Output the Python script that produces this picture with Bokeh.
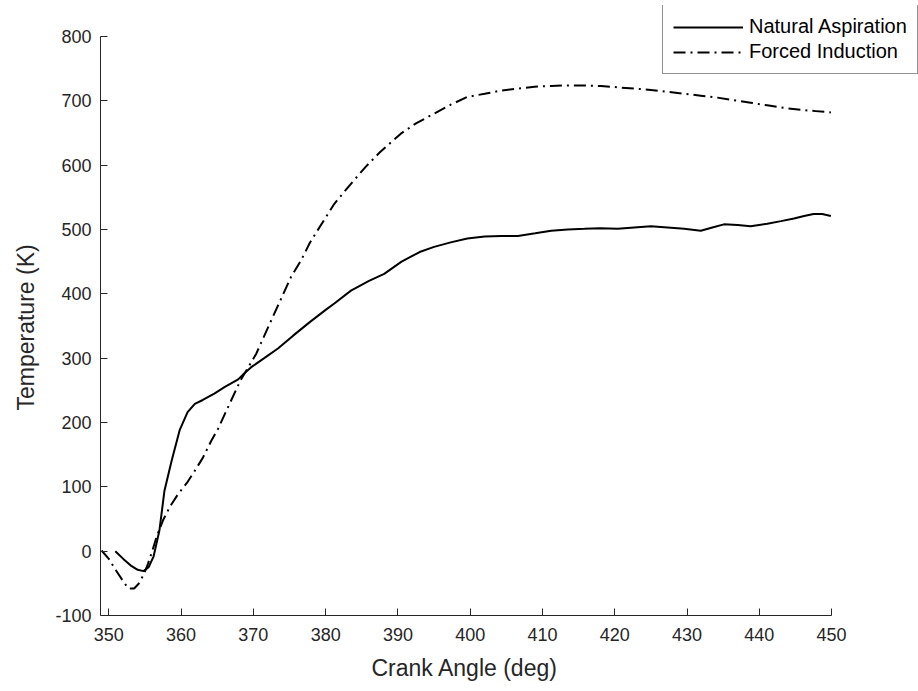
from bokeh.plotting import figure
from bokeh.models import Range1d, FixedTicker, Legend, LegendItem, PrintfTickFormatter, Title
from bokeh.embed import file_html
from bokeh.resources import INLINE

# ---- data ----
na_angle = [350.9, 352.0, 353.0, 354.0, 354.8, 355.5, 356.2, 357.0, 357.7, 358.7,
            359.8, 360.9, 361.9, 363.0, 364.6, 366.0, 367.9, 368.8, 369.7, 371.5,
            373.4, 375.5, 377.8, 380.0, 381.2, 383.5, 386.0, 388.1, 390.5, 393.0,
            395.0, 397.3, 399.6, 402.0, 404.3, 406.6, 409.0, 411.2, 413.5, 415.8,
            418.0, 420.4, 422.7, 425.0, 427.3, 429.6, 431.9, 433.5, 435.1, 437.0,
            438.8, 441.1, 443.0, 444.8, 446.2, 447.5, 448.7, 449.9]
na_temp = [0, -12, -22, -29, -31, -25, -8, 32, 94, 141,
           188, 216, 229, 235, 245, 255, 267, 277, 286, 300,
           315, 335, 356, 375, 385, 405, 420, 431, 450, 465,
           473, 480, 486, 489, 490, 490, 494, 498, 500, 501,
           502, 501, 503, 505, 503, 501, 498, 503, 508, 507,
           505, 509, 513, 517, 521, 524, 524, 521]

fi_angle = [349.0, 350.0, 351.0, 352.0, 352.7, 353.5, 354.1, 354.8, 355.4, 356.0,
            356.6, 357.5, 358.5, 359.6, 360.8, 361.9, 363.0, 364.2, 365.1, 366.5,
            368.2, 370.4, 372.0, 375.2, 376.6, 377.8, 378.9, 381.2, 383.5, 385.5,
            387.5, 390.4, 392.5, 395.0, 397.3, 399.6, 402.0, 404.3, 406.6, 408.9,
            411.2, 413.5, 415.8, 418.1, 420.4, 422.7, 425.0, 427.3, 429.6, 431.9,
            434.2, 436.5, 438.8, 441.1, 443.4, 445.7, 447.8, 449.9]
fi_temp = [1, -12, -30, -47, -58, -58, -51, -37, -20, 0,
           22, 48, 70, 89, 106, 125, 145, 172, 190, 224,
           265, 307, 347, 426, 452, 479, 499, 540, 571, 597,
           620, 649, 665, 680, 694, 706, 711, 716, 719, 722,
           723, 724, 724, 723, 721, 719, 717, 714, 711, 708,
           705, 701, 697, 693, 689, 686, 684, 682]

x_ticks = [350, 360, 370, 380, 390, 400, 410, 420, 430, 440, 450]
y_ticks = [-100, 0, 100, 200, 300, 400, 500, 600, 700, 800]
x_axis_lim = (348.85, 450)
y_axis_lim = (-100, 800)
x_label = "Crank Angle (deg)"
y_label = "Temperature (K)"

# ---- layout (pixels) ----
W, H = 918, 691
LEFT, BOTTOM = 99, 76          # axes box left / bottom margins
AXES_W, AXES_H = 732, 579      # size of the drawn axes box
TOP, RIGHT = 5, 0              # frame extended so the legend is not clipped

FONT = "Liberation Sans"
AX = "#262626"

xs = (x_axis_lim[1] - x_axis_lim[0]) / AXES_W
ys = (y_axis_lim[1] - y_axis_lim[0]) / AXES_H
x_end = x_axis_lim[0] + (W - LEFT - RIGHT) * xs
y_end = y_axis_lim[0] + (H - BOTTOM - TOP) * ys

p = figure(width=W, height=H, output_backend="svg", toolbar_location=None,
           x_range=Range1d(x_axis_lim[0], x_end), y_range=Range1d(y_axis_lim[0], y_end),
           min_border_left=LEFT, min_border_right=RIGHT, min_border_top=TOP,
           min_border_bottom=BOTTOM)
p.outline_line_color = None
p.background_fill_color = "white"
p.border_fill_color = "white"
p.xgrid.grid_line_color = None
p.ygrid.grid_line_color = None

for ax in (p.xaxis, p.yaxis):
    ax.axis_line_color = AX
    ax.axis_line_width = 1
    ax.major_tick_line_color = AX
    ax.major_tick_in = 7
    ax.major_tick_out = 0
    ax.minor_tick_line_color = None
    ax.major_label_text_font = FONT
    ax.major_label_text_font_size = "18px"
    ax.major_label_text_color = AX
    ax.formatter = PrintfTickFormatter(format="%d")

p.xaxis.bounds = x_axis_lim
p.yaxis.bounds = y_axis_lim
p.xaxis.ticker = FixedTicker(ticks=x_ticks)
p.yaxis.ticker = FixedTicker(ticks=y_ticks)
p.xaxis.major_label_standoff = 12
p.yaxis.major_label_standoff = 9

# axis titles centred on the drawn axes box (not on the extended frame)
p.add_layout(Title(text=x_label, align="left", offset=271, vertical_align="bottom",
                   standoff=19, text_font=FONT, text_font_size="23px",
                   text_font_style="normal", text_color=AX), "below")
p.add_layout(Title(text=y_label, align="left", offset=205, vertical_align="top",
                   standoff=24, text_font=FONT, text_font_size="23px",
                   text_font_style="normal", text_color=AX), "left")

r1 = p.line(na_angle, na_temp, line_color="black", line_width=2)
r2 = p.line(fi_angle, fi_temp, line_color="black", line_width=2, line_dash="12 5 2 5")

legend = Legend(items=[LegendItem(label="Natural Aspiration", renderers=[r1]),
                       LegendItem(label="Forced Induction", renderers=[r2])],
                location=(562, 541))
legend.label_text_font = FONT
legend.label_text_font_size = "20px"
legend.label_text_color = "black"
legend.glyph_width = 70
legend.glyph_height = 22
legend.label_height = 22
legend.label_standoff = 6
legend.spacing = 2
legend.padding = 10
legend.margin = 0
legend.border_line_color = AX
legend.border_line_width = 1
legend.background_fill_color = "white"
legend.background_fill_alpha = 1
p.add_layout(legend, "center")

open("out.html", "w").write(file_html(p, INLINE))
